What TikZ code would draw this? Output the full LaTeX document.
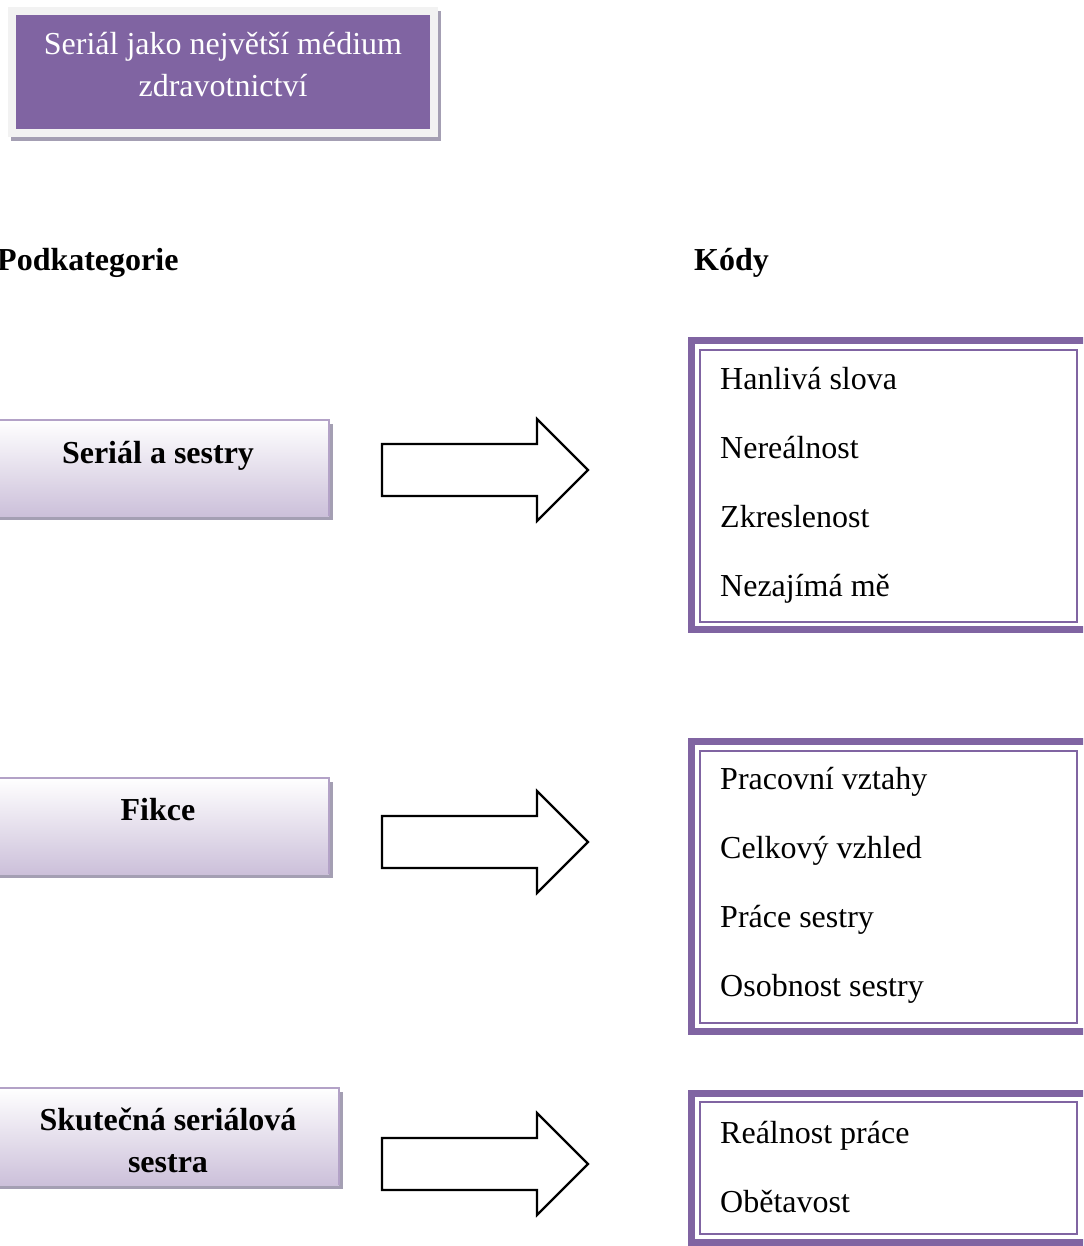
\documentclass[tikz,border=0pt]{standalone}
\usepackage{fontspec}
\setmainfont{Liberation Serif}[BoldFont={Liberation Serif Bold}]
\definecolor{vio}{HTML}{8064A2}
\definecolor{lvio}{HTML}{CCC0DA}
\definecolor{bvio}{HTML}{B3A2C7}
\definecolor{shad}{HTML}{A49FB3}
\definecolor{frame}{HTML}{F2F2F2}
\tikzset{
  txt/.style={inner sep=0pt,font=\fontsize{32}{42}\selectfont},
  btxt/.style={inner sep=0pt,font=\fontsize{32}{42}\selectfont\bfseries,align=center},
  wtxt/.style={inner sep=0pt,font=\fontsize{32}{42}\selectfont,text=white,align=center},
  catbox/.style={draw=none,top color=white,bottom color=lvio},
  blockarrow/.style={draw=black,line width=2.2pt,fill=white,line join=miter},
  outerframe/.style={draw=vio,line width=7pt},
  innerframe/.style={draw=vio,line width=2pt}
}
\begin{document}
\begin{tikzpicture}[x=1pt,y=-1pt]
\useasboundingbox (0,0) rectangle (1083,1246);
\clip (0,0) rectangle (1083,1246);
% title
\fill[shad] (11,11) rectangle (441,141);
\fill[frame] (8,7) rectangle (438,137);
\fill[vio] (16,15) rectangle (430,129);
\node[wtxt,anchor=base] (title) at (223,97) {Seriál jako největší médium\\zdravotnictví};
% headers
\node[btxt,anchor=base west] (hpod) at (-3,271) {Podkategorie};
\node[btxt,anchor=base west] (hkod) at (694,271) {Kódy};
% left boxes
\foreach \yt/\yb/\xr/\nm in {420/516/329/c1, 778/874/329/c2, 1088/1185/339/c3}{
  \fill[shad] (0,\yt+4) rectangle (\xr+4,\yb+4);
  \shade[catbox] (-5,\yt) rectangle (\xr,\yb);
  \draw[bvio,line width=2pt] (-5,\yt) -- (\xr,\yt) -- (\xr,\yb);
  \coordinate (\nm) at (\xr,\yt/2+\yb/2);
}
\node[btxt,anchor=base] (t1) at (158,463) {Seriál a sestry};
\node[btxt,anchor=base] (t2) at (158,820) {Fikce};
\node[btxt,anchor=base] (t3) at (168,1172) {Skutečná seriálová\\sestra};
% block arrows
\foreach \yc/\nm in {470/a1, 842/a2, 1164/a3}{
  \coordinate (\nm) at (382,\yc);
  \draw[blockarrow] (\nm) ++(0,-26) -- ++(155,0) -- ++(0,-25) -- ++(51,51) -- ++(-51,51) -- ++(0,-25) -- ++(-155,0) -- cycle;
}
% right boxes
\foreach \yt/\yb/\nm in {340.5/629.5/k1, 741.5/1031/k2, 1093/1242/k3}{
  \draw[outerframe] (691,\yt) rectangle (1087,\yb);
  \draw[innerframe] (700,\yt+9) rectangle (1077,\yb-8);
  \coordinate (\nm) at (691,\yt/2+\yb/2);
}
\node[txt,anchor=base west] (k11) at (720,389) {Hanlivá slova};
\node[txt,anchor=base west] (k12) at (720,458) {Nereálnost};
\node[txt,anchor=base west] (k13) at (720,527) {Zkreslenost};
\node[txt,anchor=base west] (k14) at (720,596) {Nezajímá mě};
\node[txt,anchor=base west] (k21) at (720,789) {Pracovní vztahy};
\node[txt,anchor=base west] (k22) at (720,858) {Celkový vzhled};
\node[txt,anchor=base west] (k23) at (720,927) {Práce sestry};
\node[txt,anchor=base west] (k24) at (720,996) {Osobnost sestry};
\node[txt,anchor=base west] (k31) at (720,1143) {Reálnost práce};
\node[txt,anchor=base west] (k32) at (720,1212) {Obětavost};
\end{tikzpicture}
\end{document}
